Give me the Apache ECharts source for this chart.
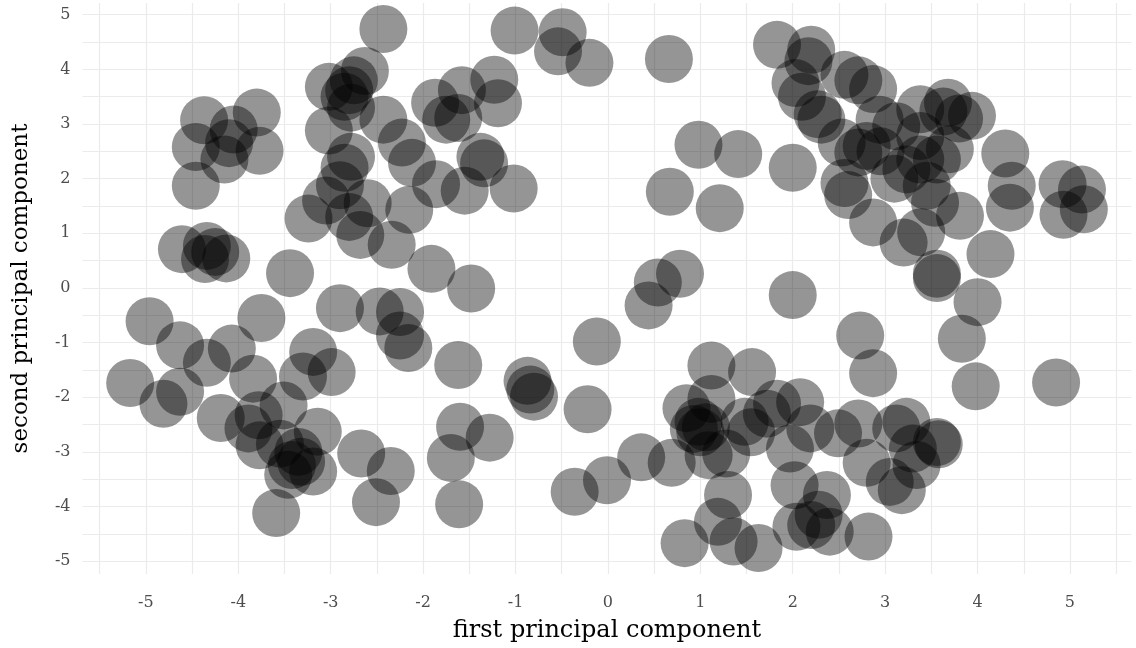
<!DOCTYPE html>
<html>
<head>
<meta charset="utf-8">
<script src="https://cdn.jsdelivr.net/npm/echarts@6/dist/echarts.min.js"></script>
<style>
html,body{margin:0;padding:0;background:#fff;}
#chart{width:1136px;height:648px;}
</style>
</head>
<body>
<div id="chart"></div>
<script>
// first principal component (x) and second principal component (y)
const pc1 = [
  -4.37,-3.80,-4.05,-4.46,-4.10,-4.15,-3.77,-4.46,
  -4.61,-4.34,-4.36,-4.25,-4.13,-3.44,
  -2.43,-2.63,-2.75,-2.80,-3.02,-2.85,-2.78,-2.43,-3.02,-2.23,-2.12,-2.78,-2.85,-2.90,-3.05,-2.60,-3.24,-2.80,-2.68,-2.34,-2.15,
  -1.87,-1.58,-1.75,-1.62,-1.23,-1.19,-1.86,-1.55,-1.38,-1.34,-1.02,-1.91,-1.48,
  -1.01,-0.49,-0.54,-0.20,0.66,
  1.83,2.20,2.17,2.03,2.10,2.31,2.27,2.56,2.71,2.87,2.53,2.71,0.98,1.41,2.00,0.67,1.21,2.56,2.60,2.87,2.80,2.94,3.12,3.38,3.68,3.63,3.94,3.80,3.38,3.70,3.56,3.38,3.23,3.10,4.30,4.37,4.35,4.92,5.13,4.93,5.15,3.45,3.54,3.81,3.20,3.39,3.56,3.56,4.14,4.00,3.83,3.98,4.85,2.73,2.87,2.00,2.95,
  0.78,0.54,0.44,-0.12,1.12,1.56,
  -4.96,-3.75,-2.90,-4.63,-4.07,-4.34,-3.19,-2.99,-3.30,-5.17,-3.84,-2.47,-2.25,-2.25,-2.16,-1.62,
  -4.81,-4.63,-4.19,-3.78,-3.89,-3.51,-3.77,-3.55,-3.35,-3.42,-3.32,-3.19,-3.14,-3.46,-3.59,-2.67,-2.35,-2.51,
  -0.87,-0.84,-0.80,-0.22,-1.60,-1.28,-1.70,-1.61,-0.36,-0.01,
  0.36,0.69,0.85,1.12,0.98,1.00,1.06,0.93,1.09,1.28,1.30,1.19,0.83,1.36,1.63,1.55,1.48,1.72,1.83,2.08,1.97,2.02,2.19,2.49,2.71,2.80,2.37,2.28,2.20,2.40,2.04,2.82,3.12,3.23,3.30,3.56,3.58,3.34,3.05,3.18
];
const pc2 = [
  3.07,3.21,2.90,2.58,2.65,2.35,2.51,1.87,
  0.71,0.77,0.53,0.66,0.54,0.27,
  4.74,3.97,3.80,3.62,3.68,3.50,3.30,3.08,2.88,2.66,2.29,2.40,2.20,1.88,1.60,1.55,1.27,1.30,0.97,0.79,1.43,
  3.39,3.62,3.08,3.11,3.81,3.38,1.90,1.78,2.40,2.28,1.82,0.35,-0.01,
  4.71,4.68,4.33,4.12,4.19,
  4.45,4.36,4.15,3.75,3.50,3.08,3.18,3.90,3.80,3.64,2.66,2.48,2.62,2.45,2.20,1.76,1.46,1.92,1.70,1.20,2.60,3.08,2.96,3.27,3.39,3.23,3.15,3.10,2.78,2.54,2.35,2.35,2.17,2.00,2.46,1.87,1.47,1.90,1.80,1.34,1.44,1.87,1.56,1.32,0.83,1.02,0.26,0.18,0.62,-0.26,-0.93,-1.80,-1.73,-0.87,-1.56,-0.13,2.50,
  0.26,0.10,-0.32,-0.98,-1.42,-1.54,
  -0.61,-0.55,-0.37,-1.05,-1.11,-1.37,-1.17,-1.54,-1.62,-1.74,-1.66,-0.43,-0.44,-0.87,-1.10,-1.41,
  -2.12,-1.90,-2.38,-2.33,-2.57,-2.15,-2.88,-2.85,-3.00,-3.24,-3.18,-3.36,-2.63,-3.42,-4.12,-3.03,-3.35,-3.92,
  -1.70,-1.86,-1.99,-2.22,-2.54,-2.74,-3.11,-3.96,-3.73,-3.52,
  -3.10,-3.20,-2.20,-2.03,-2.45,-2.64,-2.55,-2.58,-3.06,-3.03,-3.79,-4.28,-4.67,-4.64,-4.76,-2.64,-2.45,-2.30,-2.12,-2.09,-2.94,-3.61,-2.57,-2.66,-2.48,-3.20,-3.79,-4.15,-4.34,-4.46,-4.37,-4.55,-2.57,-2.45,-2.94,-2.82,-2.86,-3.24,-3.55,-3.70
];
const xTickLabels = [-5,-4,-3,-2,-1,0,1,2,3,4,5];
const yTickLabels = [-5,-4,-3,-2,-1,0,1,2,3,4,5];
const xGridValues = [-5.5,-5,-4.5,-4,-3.5,-3,-2.5,-2,-1.5,-1,-0.5,0,0.5,1,1.5,2,2.5,3,3.5,4,4.5,5,5.5];
const yGridValues = [-5,-4.5,-4,-3.5,-3,-2.5,-2,-1.5,-1,-0.5,0,0.5,1,1.5,2,2.5,3,3.5,4,4.5,5];
const xTitle = 'first principal component';
const yTitle = 'second principal component';

const points = pc1.map((x, i) => [x, pc2[i]]);
const FONT = '"DejaVu Serif", "Liberation Serif", serif';

const chart = echarts.init(document.getElementById('chart'), null, {renderer: 'canvas'});
chart.setOption({
  animation: false,
  backgroundColor: '#ffffff',
  grid: {left: 82.5, right: 4.5, top: 3, bottom: 72, containLabel: false},
  xAxis: {
    type: 'value', min: -5.686, max: 5.666,
    axisLine: {show: false},
    axisTick: {show: false, customValues: xGridValues},
    splitLine: {show: true, lineStyle: {color: '#ebebeb', width: 1.2}},
    axisLabel: {customValues: xTickLabels, color: '#4d4d4d', fontFamily: FONT, fontSize: 16, margin: 21},
    name: xTitle, nameLocation: 'middle', nameGap: 45,
    nameTextStyle: {color: '#000', fontFamily: FONT, fontSize: 24}
  },
  yAxis: {
    type: 'value', min: -5.235, max: 5.215,
    axisLine: {show: false},
    axisTick: {show: false, customValues: yGridValues},
    splitLine: {show: true, lineStyle: {color: '#ebebeb', width: 1.2}},
    axisLabel: {customValues: yTickLabels, color: '#4d4d4d', fontFamily: FONT, fontSize: 16, margin: 12},
    name: yTitle, nameLocation: 'middle', nameGap: 50, nameRotate: 90,
    nameTextStyle: {color: '#000', fontFamily: FONT, fontSize: 23}
  },
  series: [{
    type: 'scatter',
    data: points,
    symbol: 'circle',
    symbolSize: 48,
    itemStyle: {color: 'rgba(0,0,0,0.52)', borderWidth: 0},
    silent: true
  }]
});
</script>
</body>
</html>
